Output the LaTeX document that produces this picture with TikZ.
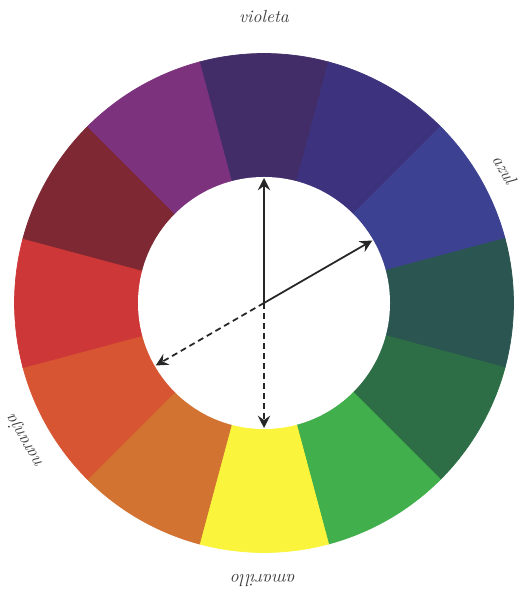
\documentclass[tikz,border=0pt]{standalone}
\usepackage{xcolor}
\usepackage{tikz}
\usetikzlibrary{arrows.meta, calc}

\definecolor{wviolet}{HTML}{422D69}
\definecolor{wblueviolet}{HTML}{3C327D}
\definecolor{wblue}{HTML}{3C4191}
\definecolor{wbluegreen}{HTML}{2B5550}
\definecolor{wdarkgreen}{HTML}{2D6E46}
\definecolor{wgreen}{HTML}{41AF4B}
\definecolor{wyellow}{HTML}{FAF53C}
\definecolor{worange}{HTML}{D27332}
\definecolor{wredorange}{HTML}{D75532}
\definecolor{wred}{HTML}{CD3737}
\definecolor{wmaroon}{HTML}{7D2832}
\definecolor{wpurple}{HTML}{7D327D}

\begin{document}
\begin{tikzpicture}[
        label/.style={font=\itshape, text=black!75},
        arrow/.style={-{Stealth[length=7pt, width=7pt, inset=2.5pt]}, line width=1pt, draw=black!85},
        dasharrow/.style={arrow, dash pattern=on 3.4pt off 2.3pt}
    ]

    % Frame of the page
    \useasboundingbox (0,0) rectangle (10.5,11.96);

    \begin{scope}[shift={(5.28,5.9)}]
    \coordinate (c) at (0,0);

    % Twelve wedges of the wheel
    \foreach \ang/\col in {90/wviolet, 60/wblueviolet, 30/wblue, 0/wbluegreen,
                           -30/wdarkgreen, -60/wgreen, -90/wyellow, -120/worange,
                           -150/wredorange, 180/wred, 150/wmaroon, 120/wpurple}
        \filldraw[fill=\col, draw=\col, line width=0.4pt, line join=round]
            (c) -- (\ang-15:4.99) arc[start angle=\ang-15, end angle=\ang+15, radius=4.99] -- cycle;

    % White centre
    \fill[white] (c) circle (2.52);

    % Arrow ends on the inner rim
    \coordinate (tviolet) at (90:2.5);
    \coordinate (tblue) at (30:2.5);
    \coordinate (tyellow) at (-90:2.5);
    \coordinate (torange) at (210:2.5);

    \draw[arrow] (c) -- (tviolet);
    \draw[arrow] (c) -- (tblue);
    \draw[dasharrow] (c) -- (tyellow);
    \draw[dasharrow] (c) -- (torange);

    % Labels round the rim
    \node[label, rotate=0] (violeta) at (90:5.72) {violeta};
    \node[label, rotate=-60] (azul) at (29:5.5) {azul};
    \node[label, rotate=120] (naranja) at (210:5.52) {naranja};
    \node[label, rotate=180] (amarillo) at (-90:5.56) {amarillo};
    \end{scope}

\end{tikzpicture}
\end{document}
